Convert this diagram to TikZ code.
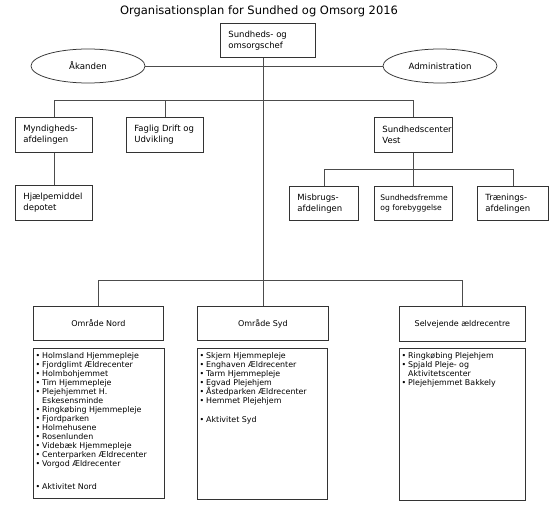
\documentclass[tikz,border=0pt]{standalone}
\usepackage{fontspec}
\setmainfont{DejaVu Sans}
\usetikzlibrary{shapes.geometric}
\begin{document}
\begin{tikzpicture}[x=1pt,y=-1pt,
  orgbox/.style={draw=black!80, line width=0.75pt, fill=white, anchor=north west,
    align=left, inner xsep=8pt, inner ysep=0pt, font={\fontsize{8.5}{10.7}\selectfont}},
  headbox/.style={draw=black!80, line width=0.75pt, fill=white, anchor=north west,
    align=center, inner sep=0pt, font={\fontsize{8}{10.5}\selectfont}},
  listbox/.style={draw=black!80, line width=0.75pt, fill=white, anchor=north west, inner sep=0pt},
  listtext/.style={anchor=north west, inner sep=0pt, align=left, font={\fontsize{7.9}{9}\selectfont}},
  oval/.style={draw=black!80, line width=0.75pt, fill=white, ellipse, inner sep=0pt,
    minimum width=114pt, minimum height=34pt, font={\fontsize{8.6}{10}\selectfont}},
  conn/.style={draw=black!70, line width=0.75pt}]
\newcommand{\bl}{\makebox[6.5pt][l]{•}}
\newcommand{\bs}{\hspace*{6.5pt}}
\useasboundingbox (0,0) rectangle (560,518);

\node[font={\fontsize{11.5}{13}\selectfont}] (title) at (259,11) {Organisationsplan for Sundhed og Omsorg 2016};

\node[orgbox, text width=79pt, minimum height=34pt] (top) at (220,23) {Sundheds- og\\omsorgschef};
\node[oval] (akanden) at (88,66) {Åkanden};
\node[oval] (admin) at (440,66) {Administration};

\node[orgbox, text width=61pt, minimum height=35pt] (myn) at (15,117) {Myndigheds-\\afdelingen};
\node[orgbox, text width=61pt, minimum height=35pt] (faglig) at (126,117) {Faglig Drift og\\Udvikling};
\node[orgbox, text width=62pt, minimum height=35pt] (sundvest) at (374,117) {Sundhedscenter\\Vest};
\node[orgbox, text width=61pt, minimum height=35pt] (hjaelp) at (15,185) {Hjælpemiddel\\depotet};

\node[orgbox, text width=53pt, minimum height=34pt] (misbrug) at (289,186) {Misbrugs-\\afdelingen};
\node[orgbox, inner xsep=6pt, text width=66pt, minimum height=34pt, font={\fontsize{7.6}{9.3}\selectfont}] (sundfrem) at (374,186) {Sundhedsfremme\\og forebyggelse};
\node[orgbox, text width=55pt, minimum height=34pt] (traening) at (477,186) {Trænings-\\afdelingen};

\node[headbox, minimum width=130pt, minimum height=34pt] (nord) at (33,306) {Område Nord};
\node[headbox, minimum width=131pt, minimum height=34pt] (syd) at (197,306) {Område Syd};
\node[headbox, minimum width=126pt, minimum height=35pt] (selv) at (399,306) {Selvejende ældrecentre};

\node[listbox, minimum width=131pt, minimum height=150pt] (nordlist) at (33,348) {};
\node[listbox, minimum width=130pt, minimum height=151pt] (sydlist) at (197,348) {};
\node[listbox, minimum width=126pt, minimum height=152pt] (selvlist) at (399,348) {};

\node[listtext] (nordtxt) at (35.5,352) {\bl Holmsland Hjemmepleje\\\bl Fjordglimt Ældrecenter\\\bl Holmbohjemmet\\\bl Tim Hjemmepleje\\\bl Plejehjemmet H.\\\bs Eskesensminde\\\bl Ringkøbing Hjemmepleje\\\bl Fjordparken\\\bl Holmehusene\\\bl Rosenlunden\\\bl Videbæk Hjemmepleje\\\bl Centerparken Ældrecenter\\\bl Vorgod Ældrecenter\\[14pt]\bl Aktivitet Nord};
\node[listtext] (sydtxt) at (199.5,352) {\bl Skjern Hjemmepleje\\\bl Enghaven Ældrecenter\\\bl Tarm Hjemmepleje\\\bl Egvad Plejehjem\\\bl Åstedparken Ældrecenter\\\bl Hemmet Plejehjem\\[10pt]\bl Aktivitet Syd};
\node[listtext] (selvtxt) at (401.5,352) {\bl Ringkøbing Plejehjem\\\bl Spjald Pleje- og\\\bs Aktivitetscenter\\\bl Plejehjemmet Bakkely};

% connectors
\draw[conn] (akanden.east) -- (admin.west);
\draw[conn] (syd.north) -- (syd.north |- top.south);
\draw[conn] (myn.north) -- ++(0,-17) -| (sundvest.north);
\draw[conn] (faglig.north) -- ++(0,-17);
\draw[conn] (myn.south) -- (hjaelp.north);
\draw[conn] (sundvest.south) -- (sundfrem.north);
\draw[conn] (misbrug.north) -- ++(0,-17) -| (traening.north);
\draw[conn] (nord.north) -- ++(0,-26) -| (selv.north);
\end{tikzpicture}
\end{document}
